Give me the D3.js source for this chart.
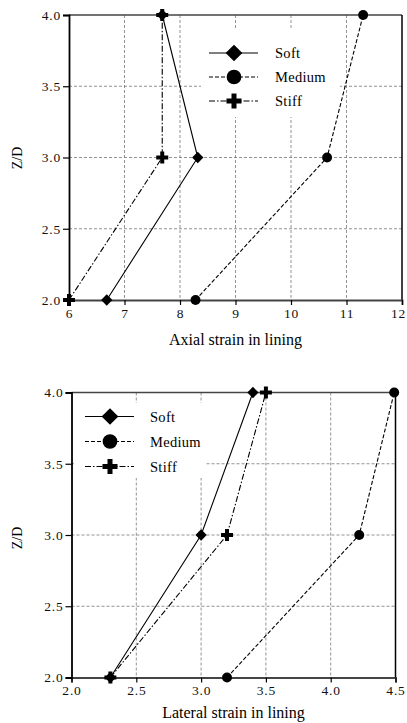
<!DOCTYPE html>
<html lang="en">
<head>
<meta charset="utf-8">
<script src="https://d3js.org/d3.v7.min.js"></script>
<style>
  body { margin: 0; background: #fff; }
</style>
</head>
<body>
<div id="graph"></div>
<script>
// depth ratio
var depth = [2.0, 3.0, 4.0];
var series = ["Soft", "Medium", "Stiff"];

// axial strain (top chart)
var axialSoft = [6.68, 8.32, 7.68];
var axialMedium = [8.28, 10.65, 11.3];
var axialStiff = [6.0, 7.68, 7.68];
var axialTicks = [6, 7, 8, 9, 10, 11, 12];

// lateral strain (bottom chart)
var latSoft = [2.3, 3.0, 3.4];
var latMedium = [3.2, 4.22, 4.49];
var latStiff = [2.3, 3.2, 3.5];
var latTicks = [2.0, 2.5, 3.0, 3.5, 4.0, 4.5];

var yTicks = [2.0, 2.5, 3.0, 3.5, 4.0];

var dashes = {Soft: null, Medium: "4,2", Stiff: "6,2,1.5,2"};
var font = "'Liberation Serif', 'Times New Roman', serif";

var svg = d3.select("#graph").append("svg")
  .attr("width", 407).attr("height", 723)
  .attr("font-family", font);

function drawChart(opt) {
  var x = d3.scaleLinear().domain(opt.xDomain).range([opt.left, opt.right]);
  var y = d3.scaleLinear().domain([2, 4]).range([opt.bottom, opt.top]);
  var g = svg.append("g");

  // grid
  g.selectAll(".vgrid").data(opt.xTicks.slice(1, -1)).enter().append("line")
    .attr("x1", d => x(d)).attr("x2", d => x(d))
    .attr("y1", opt.top).attr("y2", opt.bottom)
    .attr("stroke", "#777").attr("stroke-width", 0.8).attr("stroke-dasharray", "3,2");
  g.selectAll(".hgrid").data(yTicks.slice(1, -1)).enter().append("line")
    .attr("x1", opt.left).attr("x2", opt.right)
    .attr("y1", d => y(d)).attr("y2", d => y(d))
    .attr("stroke", "#777").attr("stroke-width", 0.8).attr("stroke-dasharray", "3,2");

  // legend background covers the grid
  g.append("rect")
    .attr("x", opt.legend.bx).attr("y", opt.legend.by)
    .attr("width", opt.legend.bw).attr("height", opt.legend.bh)
    .attr("fill", "#fff");

  // frame
  g.append("line").attr("x1", opt.left).attr("x2", opt.right)
    .attr("y1", opt.top).attr("y2", opt.top).attr("stroke", "#444").attr("stroke-width", 1.5);
  g.append("line").attr("x1", opt.right).attr("x2", opt.right)
    .attr("y1", opt.top).attr("y2", opt.bottom).attr("stroke", "#000").attr("stroke-width", 1.5);

  // axes
  var xAxis = g.append("g")
    .attr("transform", "translate(0," + opt.bottom + ")")
    .call(d3.axisBottom(x).tickValues(opt.xTicks).tickFormat(opt.xFormat).tickSize(5).tickPadding(3));
  var yAxis = g.append("g")
    .attr("transform", "translate(" + opt.left + ",0)")
    .call(d3.axisLeft(y).tickValues(yTicks).tickFormat(d3.format(".1f")).tickSize(6).tickPadding(2));
  [xAxis, yAxis].forEach(function (a) {
    a.attr("font-family", font);
    a.selectAll("text").attr("font-size", 13.5).attr("letter-spacing", 0.8).attr("fill", "#111");
    a.selectAll("line").attr("stroke", "#000").attr("stroke-width", 1.2);
  });
  xAxis.select(".domain").attr("stroke", "#444").attr("stroke-width", 1.8);
  yAxis.select(".domain").attr("stroke", "#000").attr("stroke-width", 1.8);
  // keep a label that would run past the page edge inside it
  xAxis.selectAll(".tick text").each(function () {
    var b = this.getBBox(), t = d3.select(this.parentNode).attr("transform");
    var tx = +t.match(/translate\(([-\d.]+)/)[1];
    if (tx + b.x + b.width > 406) d3.select(this).attr("x", 406 - tx - b.x - b.width);
  });

  // titles
  g.append("text").attr("x", (opt.left + opt.right) / 2).attr("y", opt.xTitleY)
    .attr("text-anchor", "middle").attr("font-size", 16).text(opt.xTitle);
  g.append("text")
    .attr("transform", "translate(22," + opt.yTitleY + ") rotate(-90)")
    .attr("text-anchor", "middle").attr("font-size", 14).text("Z/D");

  // lines and markers
  opt.data.forEach(function (vals, i) {
    var name = series[i];
    var pts = depth.map((d, k) => [vals[k], d]);
    g.append("path")
      .attr("d", d3.line().x(p => x(p[0])).y(p => y(p[1]))(pts))
      .attr("fill", "none").attr("stroke", "#000").attr("stroke-width", 1.1)
      .attr("stroke-dasharray", dashes[name]);
    pts.forEach(function (p) {
      drawMarker(g, name, x(p[0]), y(p[1]), false);
    });
  });

  // legend
  series.forEach(function (name, i) {
    var ly = opt.legend.y0 + i * opt.legend.dy;
    g.append("line")
      .attr("x1", opt.legend.x0).attr("x2", opt.legend.x0 + 49)
      .attr("y1", ly).attr("y2", ly)
      .attr("stroke", "#000").attr("stroke-width", 1.1)
      .attr("stroke-dasharray", dashes[name]);
    drawMarker(g, name, opt.legend.x0 + 25, ly, true);
    g.append("text").attr("x", opt.legend.tx).attr("y", ly + 5)
      .attr("font-size", 14.5).attr("letter-spacing", 0.3).text(name);
  });
}

function drawMarker(g, name, cx, cy, big) {
  var sym, rot = 0;
  if (name === "Soft") { sym = d3.symbol().type(d3.symbolSquare).size(big ? 140 : 64); rot = 45; }
  else if (name === "Medium") sym = d3.symbol().type(d3.symbolCircle).size(big ? 170 : 78);
  else sym = d3.symbol().type(d3.symbolCross).size(big ? 125 : 80);
  g.append("path").attr("d", sym())
    .attr("transform", "translate(" + cx + "," + cy + ") rotate(" + rot + ")")
    .attr("fill", "#000");
}

drawChart({
  left: 69, right: 402, top: 15, bottom: 300,
  xDomain: [6, 12], xTicks: axialTicks, xFormat: d3.format("d"),
  xTitle: "Axial strain in lining", xTitleY: 345, yTitleY: 158,
  data: [axialSoft, axialMedium, axialStiff],
  legend: {x0: 209, tx: 275, y0: 53, dy: 24, bx: 201, by: 30, bw: 139, bh: 87}
});

drawChart({
  left: 71.5, right: 395.5, top: 392.5, bottom: 677.5,
  xDomain: [2, 4.5], xTicks: latTicks, xFormat: d3.format(".1f"),
  xTitle: "Lateral strain in lining", xTitleY: 718, yTitleY: 538,
  data: [latSoft, latMedium, latStiff],
  legend: {x0: 85, tx: 150, y0: 416.5, dy: 25, bx: 74, by: 403, bw: 131, bh: 75}
});
</script>
</body>
</html>
